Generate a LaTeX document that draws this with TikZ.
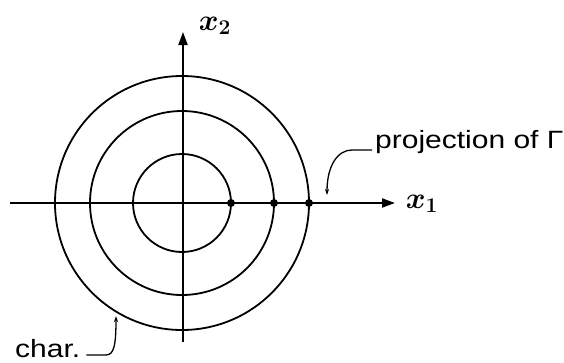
\documentclass[tikz,border=0pt]{standalone}
\usepackage{fix-cm}
\usepackage{fontspec}
\usetikzlibrary{arrows.meta}
\newfontfamily\labelfont[FakeStretch=1.2]{Liberation Sans}

\begin{document}
\begin{tikzpicture}[x=1pt, y=-1pt,
  axis/.style={line width=2pt, -{Triangle[length=13pt, width=9pt]}},
  ring/.style={line width=1.8pt},
  dot/.style={circle, fill, inner sep=0pt, minimum size=8pt},
  lead/.style={line width=1.3pt, -{Stealth[length=6pt, width=4pt]}},
  lbl/.style={font=\labelfont\fontsize{25}{30}\selectfont, inner sep=0pt},
  var/.style={font=\fontsize{30}{34}\selectfont\boldmath, inner sep=0pt}
]
  \useasboundingbox (0,0) rectangle (564,362);
  \coordinate (o) at (182,203);

  % axes
  \coordinate (xstart) at (10,203);
  \coordinate (xend) at (395,203);
  \coordinate (ystart) at (183,342);
  \coordinate (yend) at (183,32);
  \draw[axis] (xstart) -- (xend);
  \draw[axis] (ystart) -- (yend);

  % level circles
  \foreach \r in {49,92,127}
    \draw[ring] (o) circle[radius=\r];
  \node[dot] (d1) at (231,203) {};
  \node[dot] (d2) at (274,203) {};
  \node[dot] (d3) at (309,203) {};

  % labels
  \node[var] (x1) at (422,204) {$x_1$};
  \node[var] (x2) at (215,26) {$x_2$};
  \node[lbl, anchor=base west] (proj) at (375,148) {projection of Γ};
  \node[lbl, anchor=base west] (char) at (15,357) {char.};

  % leaders
  \coordinate (ptip) at (327,195);
  \coordinate (ctip) at (116,316);
  \draw[lead] ([shift={(-3,2)}]proj.base west) -- (352,150)
    .. controls (338,150) and (327,165) .. (ptip);
  \draw[lead] ([shift={(6,-2)}]char.base east) -- (106,355)
    .. controls (114,355) and (116,345) .. (ctip);
\end{tikzpicture}
\end{document}
